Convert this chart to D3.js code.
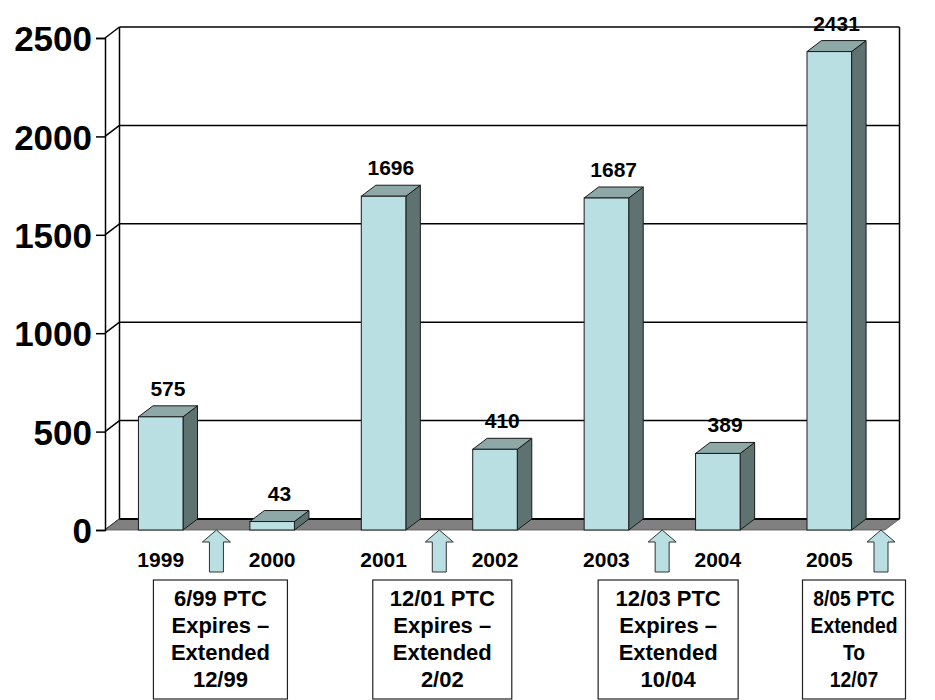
<!DOCTYPE html>
<html>
<head>
<meta charset="utf-8">
<script src="https://cdn.jsdelivr.net/npm/d3@7"></script>
<style>
  html, body { margin: 0; padding: 0; background: #fff; }
  svg { display: block; font-family: "Liberation Sans", Arial, sans-serif; }
</style>
</head>
<body>
<svg id="chart" width="935" height="700"></svg>
<script>
// Yearly values
const years = ["1999", "2000", "2001", "2002", "2003", "2004", "2005"];
const values = [575, 43, 1696, 410, 1687, 389, 2431];
const yTicks = [0, 500, 1000, 1500, 2000, 2500];

// Policy notes: arrow placed after the given year, with the note text
const noteAfter = ["1999", "2001", "2003", "2005"];
const noteLines = [
  ["6/99 PTC", "Expires \u2013", "Extended", "12/99"],
  ["12/01 PTC", "Expires \u2013", "Extended", "2/02"],
  ["12/03 PTC", "Expires \u2013", "Extended", "10/04"],
  ["8/05 PTC", "Extended", "To", "12/07"]
];

// Layout
const plot = { left: 105, right: 885, bottom: 530, top: 38 };
const depth = { dx: 14.5, dy: 11 };
const noteBox = [
  { w: 134, shift: 4 },
  { w: 139, shift: 3 },
  { w: 140, shift: 6 },
  { w: 103, shift: -31 }
];
const col = {
  front: "#b9dfe2",
  top: "#8ea8a8",
  side: "#5f7272",
  floor: "#808080",
  line: "#000"
};

const svg = d3.select("#chart");

const y = d3.scaleLinear().domain([0, 2500]).range([plot.bottom, plot.top]);
const x = d3.scaleBand().domain(years).range([plot.left, plot.right])
  .paddingInner(0.6).paddingOuter(0.3);
const bw = x.bandwidth();
const step = x.step();

// Back wall and gridlines
const wall = svg.append("g");
yTicks.forEach(v => {
  const yy = y(v);
  wall.append("line")
    .attr("x1", plot.left).attr("y1", yy)
    .attr("x2", plot.left + depth.dx).attr("y2", yy - depth.dy)
    .attr("stroke", col.line).attr("stroke-width", 1.5);
  if (v > 0) {
    wall.append("line")
      .attr("x1", plot.left + depth.dx).attr("y1", yy - depth.dy)
      .attr("x2", plot.right + depth.dx).attr("y2", yy - depth.dy)
      .attr("stroke", col.line).attr("stroke-width", 1.5);
  }
});
// left wall back edge and right wall edge
wall.append("line")
  .attr("x1", plot.left + depth.dx).attr("y1", y(2500) - depth.dy)
  .attr("x2", plot.left + depth.dx).attr("y2", y(0) - depth.dy)
  .attr("stroke", col.line).attr("stroke-width", 1.5);
wall.append("line")
  .attr("x1", plot.right + depth.dx).attr("y1", y(2500) - depth.dy)
  .attr("x2", plot.right + depth.dx).attr("y2", y(0) - depth.dy)
  .attr("stroke", col.line).attr("stroke-width", 1.5);

// Floor
const y0 = y(0);
svg.append("polygon")
  .attr("points", [
    [plot.left, y0], [plot.right, y0],
    [plot.right + depth.dx, y0 - depth.dy], [plot.left + depth.dx, y0 - depth.dy]
  ].map(p => p.join(",")).join(" "))
  .attr("fill", col.floor).attr("stroke", "#555").attr("stroke-width", 0.8);
svg.append("line")
  .attr("x1", plot.left + depth.dx).attr("y1", y0 - depth.dy)
  .attr("x2", plot.right + depth.dx).attr("y2", y0 - depth.dy)
  .attr("stroke", col.line).attr("stroke-width", 2);

// Bars
const data = years.map((yr, i) => ({ yr, v: values[i] }));
const bars = svg.append("g").selectAll("g").data(data).join("g");
const pts = arr => arr.map(p => p.join(",")).join(" ");
bars.append("polygon")
  .attr("points", d => {
    const x0 = x(d.yr) + bw, yt = y(d.v);
    return pts([[x0, yt], [x0 + depth.dx, yt - depth.dy], [x0 + depth.dx, y0 - depth.dy], [x0, y0]]);
  })
  .attr("fill", col.side).attr("stroke", "#1a1a1a").attr("stroke-width", 1);
bars.append("polygon")
  .attr("points", d => {
    const x0 = x(d.yr), yt = y(d.v);
    return pts([[x0, yt], [x0 + bw, yt], [x0 + bw + depth.dx, yt - depth.dy], [x0 + depth.dx, yt - depth.dy]]);
  })
  .attr("fill", col.top).attr("stroke", "#1a1a1a").attr("stroke-width", 1);
bars.append("rect")
  .attr("x", d => x(d.yr)).attr("y", d => y(d.v))
  .attr("width", bw).attr("height", d => y0 - y(d.v))
  .attr("fill", col.front).attr("stroke", "#1a1a1a").attr("stroke-width", 1);

// Value labels
bars.append("text")
  .attr("x", d => x(d.yr) + bw / 2 + depth.dx / 2)
  .attr("y", d => y(d.v) - 21)
  .attr("text-anchor", "middle")
  .attr("font-size", 21).attr("font-weight", "bold")
  .text(d => d.v);

// Y axis
const yAxis = d3.axisLeft(y).tickValues(yTicks).tickFormat(d3.format("d"))
  .tickSize(9).tickPadding(4);
const gy = svg.append("g").attr("transform", `translate(${plot.left},0)`).call(yAxis);
gy.select(".domain").attr("stroke", col.line).attr("stroke-width", 1.5);
gy.selectAll(".tick line").attr("stroke", col.line).attr("stroke-width", 1.5);
gy.selectAll(".tick text")
  .attr("font-family", "'Liberation Sans', Arial, sans-serif")
  .attr("font-size", 35).attr("font-weight", "bold").attr("fill", "#000")
  .attr("dy", "0.36em");

// Category labels
svg.append("g").selectAll("text").data(years).join("text")
  .attr("x", d => x(d) + bw / 2)
  .attr("y", 567)
  .attr("text-anchor", "middle")
  .attr("font-size", 21).attr("font-weight", "bold")
  .text(d => d);

// Arrows and note boxes
const boxTop = 580, boxH = 119, lineStep = 27, fontNote = 22;
noteAfter.forEach((yr, i) => {
  const ax = Math.min(x(yr) + bw + (step - bw) / 2, plot.right - 4);
  const tip = y0, headBase = tip + 12, bottom = tip + 42, hw = 14, sw = 7;
  svg.append("polygon")
    .attr("points", pts([
      [ax, tip], [ax + hw, headBase], [ax + sw, headBase], [ax + sw, bottom],
      [ax - sw, bottom], [ax - sw, headBase], [ax - hw, headBase]
    ]))
    .attr("fill", col.front).attr("stroke", "#333").attr("stroke-width", 1);

  const lay = noteBox[i];
  const cx = x(yr) + bw + (step - bw) / 2 + lay.shift;
  svg.append("rect")
    .attr("x", cx - lay.w / 2).attr("y", boxTop)
    .attr("width", lay.w).attr("height", boxH)
    .attr("fill", "#fff").attr("stroke", "#222").attr("stroke-width", 1.2);

  const g = svg.append("g");
  const texts = g.selectAll("text").data(noteLines[i]).join("text")
    .attr("x", 0)
    .attr("y", (d, k) => boxTop + 26 + k * lineStep)
    .attr("text-anchor", "middle")
    .attr("font-size", fontNote).attr("font-weight", "bold")
    .text(d => d);
  let widest = 0;
  texts.each(function () { widest = Math.max(widest, this.getComputedTextLength()); });
  const avail = lay.w - 16;
  const s = widest > avail ? avail / widest : 1;
  g.attr("transform", `translate(${cx},0) scale(${s},1)`);
});
</script>
</body>
</html>
